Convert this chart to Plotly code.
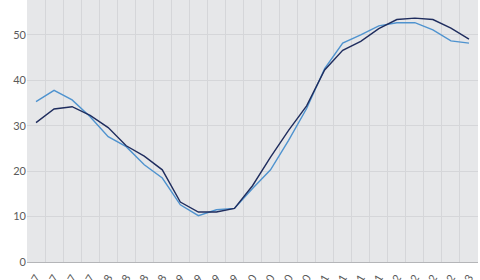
import plotly.graph_objects as go

quarters = ["Q1", "Q2", "Q3", "Q4"]
years = ["07", "08", "09", "10", "11", "12"]
categories = [f"{q} {y}" for y in years for q in quarters] + ["Q1 13"]

series_dark = [30.7, 33.7, 34.2, 32.3, 29.6, 25.6, 23.3, 20.3, 13.2, 11.0, 11.0, 11.8,
               16.8, 23.1, 29.0, 34.4, 42.3, 46.6, 48.6, 51.4, 53.4, 53.7, 53.4, 51.5, 49.1]
series_light = [35.3, 37.8, 35.7, 32.0, 27.6, 25.4, 21.4, 18.5, 12.6, 10.2, 11.5, 11.8,
                16.2, 20.3, 26.8, 33.8, 42.6, 48.2, 50.0, 52.0, 52.7, 52.7, 51.1, 48.7, 48.2]

y_ticks = [0, 10, 20, 30, 40, 50]

fig = go.Figure()
fig.add_trace(go.Scatter(x=categories, y=series_light, mode="lines",
                         line=dict(color="#4f93cf", width=1.4), showlegend=False))
fig.add_trace(go.Scatter(x=categories, y=series_dark, mode="lines",
                         line=dict(color="#1f2d5e", width=1.4), showlegend=False))

fig.update_layout(
    width=480, height=280,
    margin=dict(l=27, r=2, t=0, b=18),
    paper_bgcolor="white",
    plot_bgcolor="#e6e7e9",
    font=dict(family="Lato, sans-serif", color="#5a5a5a", size=11),
)
fig.update_xaxes(
    type="category", tickson="boundaries", range=[-0.5, 24.5],
    showgrid=True, gridcolor="#d5d6d9", gridwidth=1,
    ticks="", tickangle=-60, ticklabelstandoff=4,
    tickfont=dict(size=11, color="#5a5a5a"),
    showline=True, linecolor="#b4b5b8", linewidth=1,
    automargin=False, zeroline=False,
)
fig.update_yaxes(
    range=[0, 57.7], tickvals=y_ticks, ticktext=[str(v) for v in y_ticks],
    showgrid=True, gridcolor="#d5d6d9", gridwidth=1,
    ticks="", zeroline=False, automargin=False,
    tickfont=dict(size=11, color="#5a5a5a"),
)

fig.write_html("out.html")
